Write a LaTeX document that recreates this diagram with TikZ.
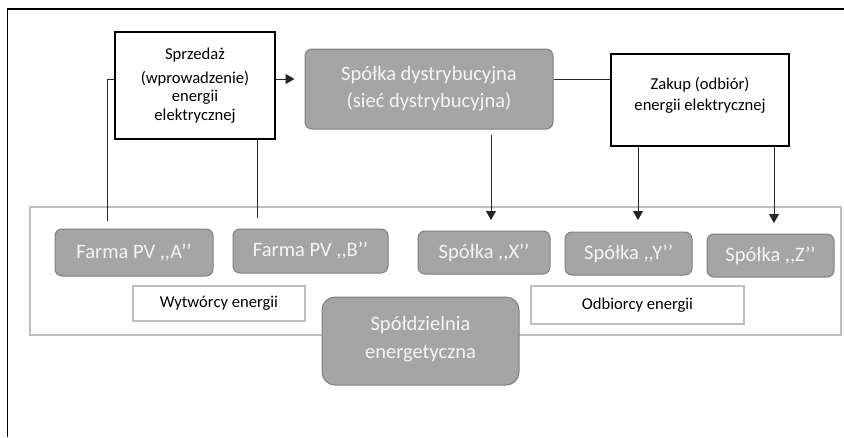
\documentclass[tikz,border=0pt]{standalone}
\usepackage{fontspec}
\setmainfont{Carlito}
\usetikzlibrary{arrows.meta,calc}
\definecolor{boxfill}{HTML}{A5A5A5}
\definecolor{boxline}{HTML}{7F7F7F}
\definecolor{frameline}{HTML}{BFBFBF}
\definecolor{boxtext}{HTML}{F4F4F4}
\tikzset{
  graybox/.style={draw=boxline, line width=1pt, fill=boxfill, rounded corners=7pt, text=boxtext, font=\fontsize{20.5}{27}\selectfont, align=center, inner sep=0pt},
  bigbox/.style={graybox, rounded corners=13pt},
  whitebox/.style={draw=black, line width=1.3pt, fill=white, font=\fontsize{16.6}{18.5}\selectfont, align=center, inner sep=0pt},
  labelbox/.style={draw=frameline, line width=1.2pt, fill=white, font=\fontsize{16.6}{18.5}\selectfont, inner sep=0pt},
  conn/.style={draw=black!85, line width=0.8pt},
  arr/.style={conn, -{Triangle[width=10pt,length=9pt]}}
}
\begin{document}
\begin{tikzpicture}[x=1pt,y=-1pt]
\useasboundingbox (0,0) rectangle (844,437);
% outer frame (top and left edges)
\coordinate (fl) at (7.5,437);
\coordinate (ft) at (7.5,9);
\coordinate (fr) at (844,9);
\draw[black, line width=1.3pt] (fl) -- (ft) -- (fr);
% container
\node[draw=frameline, line width=1.2pt, fill=white, minimum width=811pt, minimum height=128pt, inner sep=0pt] (cont) at (435.5,271) {};
% top boxes
\node[whitebox, minimum width=160pt, minimum height=107pt] (sprz) at (195,85.5) {Sprzedaż\\[5.5pt](wprowadzenie)\\energii\\elektrycznej};
\node[graybox, minimum width=248pt, minimum height=80pt] (dys) at (429,89) {Spółka dystrybucyjna\\(sieć dystrybucyjna)};
\node[whitebox, minimum width=178pt, minimum height=92pt, font=\fontsize{16.6}{21.5}\selectfont] (zak) at (700,100) {Zakup (odbiór)\\energii elektrycznej\\[-9pt]{}};
% members
\node[graybox, minimum width=158pt, minimum height=47pt] (fa) at (134,252.5) {Farma PV {,}{,}A’’};
\node[graybox, minimum width=155pt, minimum height=44pt] (fb) at (310.5,251) {Farma PV {,}{,}B’’};
\node[graybox, minimum width=132pt, minimum height=43pt] (sx) at (484,252.5) {Spółka {,}{,}X’’};
\node[graybox, minimum width=127pt, minimum height=43pt] (sy) at (628.5,253.5) {Spółka {,}{,}Y’’};
\node[graybox, minimum width=127pt, minimum height=43pt] (sz) at (770.5,255.5) {Spółka {,}{,}Z’’};
\node[labelbox, minimum width=172pt, minimum height=35pt] (wyt) at (219,303.5) {Wytwórcy energii};
\node[labelbox, minimum width=213pt, minimum height=38pt] (odb) at (637.5,305) {Odbiorcy energii};
\node[bigbox, minimum width=197pt, minimum height=88pt, font=\fontsize{20.5}{27.5}\selectfont] (spd) at (420.5,341) {Spółdzielnia\\energetyczna\\[-20pt]{}};
% connectors
\draw[arr, shorten >=10pt] (sprz.east |- 0,79) -- (dys.west |- 0,79);
\draw[conn] (dys.east |- 0,79) -- (zak.west |- 0,79);
\coordinate (la) at (107,221);
\draw[conn] (sprz.west |- 0,79) -- (la |- 0,79) -- (la);
\coordinate (lb) at (257,218);
\draw[conn] (sprz.south -| lb) -- (lb);
\coordinate (ax) at (491,220);
\draw[arr] ($(dys.south -| ax)+(0,5)$) -- (ax);
\coordinate (ay) at (638,220);
\draw[arr] (zak.south -| ay) -- (ay);
\coordinate (az) at (774,223);
\draw[arr] (zak.south -| az) -- (az);
\end{tikzpicture}
\end{document}
